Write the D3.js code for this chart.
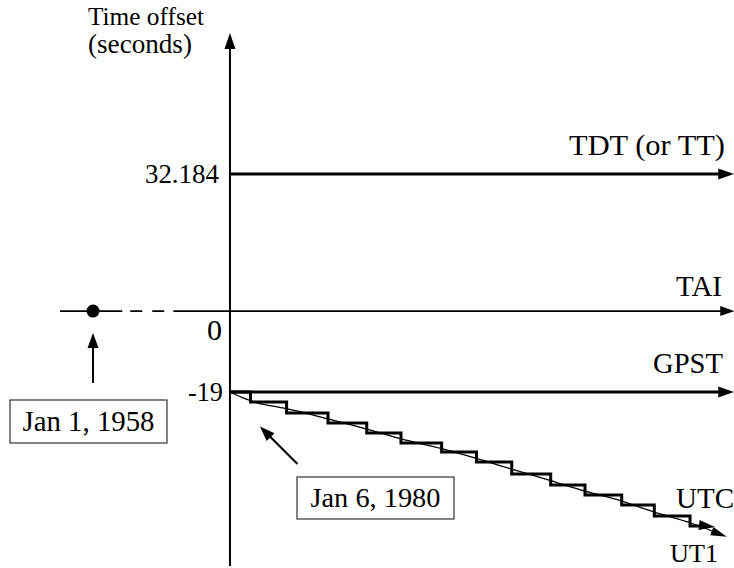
<!DOCTYPE html>
<html><head><meta charset="utf-8">
<script src="https://cdn.jsdelivr.net/npm/d3@7"></script>
<style>
html,body{margin:0;padding:0;background:#fff;}
svg text{font-family:"Liberation Serif","DejaVu Serif","Times New Roman",serif !important;fill:#000;}
</style></head>
<body>
<svg id="chart" width="734" height="568"></svg>
<script>
// ---- data ----
const tickValues = [32.184, 0, -19];
const tickLabels = ["32.184", "0", "-19"];
const refNames = ["TDT (or TT)", "TAI", "GPST"];
const refOffsets = [32.184, 0, -19];
const startYear = 1980;          // Jan 6, 1980 (GPS epoch)
const taiEpoch = 1958;           // Jan 1, 1958
const taiLineYears = [1952.7, 1962.7, 1970.9]; // solid start, dashed from, dashed to
const endYear = 2061;
// UTC staircase: year of each leap-second step and offset after it
const utcStepYears = [1983.3, 1989.1, 1995.75, 2001.97, 2007.47, 2014.0, 2019.6, 2025.26, 2031.52, 2037.03, 2042.93, 2048.16, 2053.9];
const utcStepValues = [-21.35, -23.93, -26.28, -28.63, -30.97, -33.09, -35.44, -38.26, -40.84, -43.18, -45.53, -48.11, -50.46];
const utcEndYear = 2057.9;
// UT1 smooth drift
const ut1Years  = [1980, 1982, 1984.5, 1989.1, 1995.75, 2001.97, 2007.47, 2014.0, 2019.6, 2025.26, 2031.52, 2037.03, 2042.93, 2048.16, 2053.9, 2059.8];
const ut1Values = [-19, -20.3, -21.6, -22.9, -25.3, -27.7, -30.0, -32.3, -34.6, -37.1, -39.8, -42.3, -44.6, -47.2, -49.7, -53.0];

// ---- scales ----
const svg = d3.select("#chart");
const x = d3.scaleLinear().domain([1958, 2060]).range([93, 728]);
const y = d3.scaleLinear().domain([32.184, -19]).range([174, 392]);
const X0 = x(startYear);

function arrowHead(g, tx, ty, angle, len, wid) {
  const c = Math.cos(angle), s = Math.sin(angle);
  const bx = tx - c*len, by = ty - s*len;
  const px = -s*wid/2, py = c*wid/2;
  g.append("path")
   .attr("d", `M${tx},${ty}L${bx+px},${by+py}L${bx-px},${by-py}Z`)
   .attr("fill", "#000");
}
// fit a text element's font size to a target width
function fit(sel, target) {
  sel.style("font-size", "26px");
  const w = sel.node().getComputedTextLength();
  if (w > 0) sel.style("font-size", (26 * target / w).toFixed(2) + "px");
  return sel;
}

// ---- y axis (vertical) ----
svg.append("line").attr("x1", X0).attr("x2", X0).attr("y1", 566).attr("y2", 45)
  .attr("stroke", "#000").attr("stroke-width", 2);
arrowHead(svg, X0, 33, -Math.PI/2, 16, 11);

const yAxis = d3.axisLeft(y).tickValues(tickValues)
  .tickFormat((d,i) => tickLabels[i]).tickSize(0).tickPadding(8);
const ag = svg.append("g").attr("transform", `translate(${X0},0)`).call(yAxis);
ag.select(".domain").remove();
const tickW = [74, 15, 35];
ag.selectAll("text")
  .attr("dy", (d) => d === 0 ? "0.95em" : "0.33em")
  .attr("x", (d) => d === -19 ? -7 : (d === 0 ? -8 : -11))
  .each(function(d, i) { fit(d3.select(this), tickW[i]); });

// axis title
fit(svg.append("text").attr("x", 146).attr("y", 25).attr("text-anchor", "middle").text("Time offset"), 116);
fit(svg.append("text").attr("x", 140).attr("y", 53).attr("text-anchor", "middle").text("(seconds)"), 104);

// ---- reference time scales ----
// TDT
svg.append("line").attr("x1", X0).attr("x2", x(endYear) - 10).attr("y1", y(refOffsets[0])).attr("y2", y(refOffsets[0]))
  .attr("stroke", "#000").attr("stroke-width", 3);
arrowHead(svg, x(endYear), y(refOffsets[0]), 0, 16, 11);
// TAI
const yT = y(refOffsets[1]);
svg.append("line").attr("x1", x(taiLineYears[0])).attr("x2", x(taiLineYears[1])).attr("y1", yT).attr("y2", yT)
  .attr("stroke", "#000").attr("stroke-width", 1.6);
svg.append("line").attr("x1", x(taiLineYears[1])).attr("x2", x(taiLineYears[2])).attr("y1", yT).attr("y2", yT)
  .attr("stroke", "#000").attr("stroke-width", 1.6).attr("stroke-dasharray", "12,10").attr("stroke-dashoffset", 14);
svg.append("line").attr("x1", x(taiLineYears[2])).attr("x2", x(endYear) - 10).attr("y1", yT).attr("y2", yT)
  .attr("stroke", "#000").attr("stroke-width", 1.6);
arrowHead(svg, x(endYear), yT, 0, 14, 10);
svg.append("circle").attr("cx", x(taiEpoch)).attr("cy", yT).attr("r", 6.5).attr("fill", "#000");
// GPST
svg.append("line").attr("x1", X0).attr("x2", x(endYear) - 10).attr("y1", y(refOffsets[2])).attr("y2", y(refOffsets[2]))
  .attr("stroke", "#000").attr("stroke-width", 3);
arrowHead(svg, x(endYear), y(refOffsets[2]), 0, 16, 11);

// labels
const labelPos = [[725, 155], [722, 296], [723, 373]];
const labelW = [156, 46, 70];
refNames.forEach((n, i) => {
  fit(svg.append("text").attr("x", labelPos[i][0]).attr("y", labelPos[i][1]).attr("text-anchor", "end").text(n), labelW[i]);
});

// ---- UT1 ----
const ut1Pts = ut1Years.map((d,i) => [x(d), y(ut1Values[i])]);
const ut1Line = d3.line().curve(d3.curveCatmullRom.alpha(0.5));
const lastU = ut1Pts[ut1Pts.length-1], prevU = ut1Pts[ut1Pts.length-2];
const angU = Math.atan2(lastU[1]-prevU[1], lastU[0]-prevU[0]);
const ut1Draw = ut1Pts.slice(0, -1).concat([[lastU[0]-10*Math.cos(angU), lastU[1]-10*Math.sin(angU)]]);
svg.append("path").attr("d", ut1Line(ut1Draw)).attr("fill", "none")
  .attr("stroke", "#000").attr("stroke-width", 1.3);
arrowHead(svg, lastU[0], lastU[1], angU, 16, 9);

// ---- UTC staircase ----
let stair = [[x(startYear), y(-19)]];
let cur = -19;
utcStepYears.forEach((yr, i) => {
  stair.push([x(yr), y(cur)]);
  cur = utcStepValues[i];
  stair.push([x(yr), y(cur)]);
});
stair.push([x(utcEndYear) - 8, y(cur)]);
svg.append("path").attr("d", d3.line()(stair)).attr("fill", "none")
  .attr("stroke", "#000").attr("stroke-width", 3).attr("stroke-linejoin", "miter");
arrowHead(svg, x(utcEndYear), y(cur) + 1, 0.12, 16, 10);

fit(svg.append("text").attr("x", 734).attr("y", 508).attr("text-anchor", "end").text("UTC"), 58);
fit(svg.append("text").attr("x", 718).attr("y", 562).attr("text-anchor", "end").text("UT1"), 48);

// ---- annotation boxes ----
function box(cx, top, w, h, label, tw) {
  svg.append("rect").attr("x", cx - w/2).attr("y", top).attr("width", w).attr("height", h)
    .attr("fill", "#fff").attr("stroke", "#333").attr("stroke-width", 1.2);
  fit(svg.append("text").attr("x", cx).attr("y", top + h/2 + 9).attr("text-anchor", "middle").text(label), tw);
}
box(88.5, 400, 157, 43, "Jan 1, 1958", 132);
box(375.5, 477, 157, 42, "Jan 6, 1980", 130);

// annotation arrows
const a1x = x(taiEpoch);
svg.append("line").attr("x1", a1x).attr("x2", a1x).attr("y1", 383).attr("y2", 345)
  .attr("stroke", "#000").attr("stroke-width", 2);
arrowHead(svg, a1x, 333, -Math.PI/2, 15, 11);
const t2 = [297.5, 464], h2 = [X0 + 30, 426.5];
const ang2 = Math.atan2(h2[1]-t2[1], h2[0]-t2[0]);
svg.append("line").attr("x1", t2[0]).attr("y1", t2[1])
  .attr("x2", h2[0] - 12*Math.cos(ang2)).attr("y2", h2[1] - 12*Math.sin(ang2))
  .attr("stroke", "#000").attr("stroke-width", 2);
arrowHead(svg, h2[0], h2[1], ang2, 15, 11);
</script>
</body></html>
